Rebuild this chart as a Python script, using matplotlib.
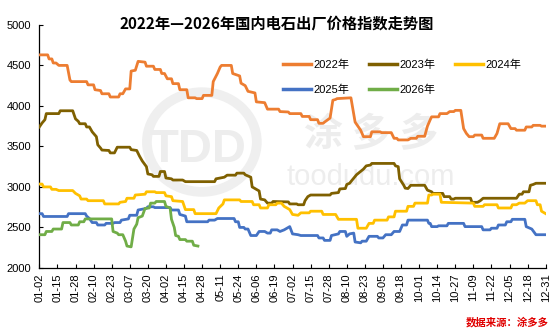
import matplotlib
matplotlib.use("Agg")
import matplotlib.pyplot as plt
import pandas as pd
from matplotlib.patches import Ellipse

# ---------------- data (day = days after 01-02, leap-year calendar) ----------------
tick_labels = ["01-02", "01-15", "01-28", "02-10", "02-23", "03-07", "03-20", "04-02",
               "04-15", "04-28", "05-11", "05-24", "06-06", "06-19", "07-02", "07-15",
               "07-28", "08-10", "08-23", "09-05", "09-18", "10-01", "10-14", "10-27",
               "11-09", "11-22", "12-05", "12-18", "12-31"]
series_names = ["2022年", "2023年", "2024年", "2025年", "2026年"]

day_2022 = [0, 6, 7, 9, 10, 12, 14, 20, 22, 23, 34, 35, 39, 40, 44, 45, 50, 51, 57, 58, 60, 62, 65, 66, 69,
            71, 76, 77, 82, 83, 87, 88, 90, 92, 95, 96, 100, 101, 106, 107, 112, 113, 117, 118, 124, 125,
            128, 130, 131, 138, 139, 144, 145, 148, 150, 155, 156, 162, 164, 172, 173, 179, 180, 188, 189,
            194, 195, 200, 201, 204, 205, 209, 211, 213, 214, 224, 227, 231, 233, 238, 239, 245, 246, 253,
            255, 257, 258, 265, 267, 271, 272, 277, 279, 281, 282, 287, 288, 293, 295, 298, 299, 303, 305,
            307, 309, 312, 313, 318, 319, 327, 329, 331, 337, 339, 342, 343, 349, 350, 354, 355, 360, 361, 364]
val_2022 = [4630, 4630, 4580, 4580, 4530, 4530, 4500, 4500, 4320, 4300, 4300, 4260, 4260, 4200, 4190, 4150,
            4150, 4110, 4110, 4150, 4150, 4210, 4210, 4430, 4440, 4550, 4540, 4490, 4490, 4450, 4450, 4400,
            4400, 4335, 4335, 4275, 4275, 4200, 4200, 4100, 4100, 4090, 4090, 4130, 4130, 4300, 4400, 4480,
            4500, 4500, 4400, 4370, 4280, 4250, 4180, 4160, 4050, 4040, 3960, 3960, 3930, 3925, 3905, 3905,
            3870, 3870, 3830, 3830, 3785, 3785, 3800, 3850, 4070, 4080, 4090, 4100, 3800, 3700, 3620, 3620,
            3680, 3680, 3670, 3670, 3600, 3600, 3580, 3580, 3600, 3600, 3625, 3625, 3750, 3830, 3865, 3865,
            3905, 3905, 3930, 3930, 3945, 3945, 3720, 3660, 3620, 3620, 3640, 3640, 3600, 3600, 3660, 3780,
            3780, 3720, 3720, 3700, 3700, 3740, 3740, 3760, 3760, 3750, 3750]

day_2023 = [0, 2, 4, 5, 14, 15, 24, 26, 28, 29, 33, 34, 36, 38, 41, 42, 44, 45, 50, 51, 54, 56, 65, 66, 70,
            72, 74, 77, 78, 81, 82, 86, 87, 90, 91, 95, 96, 103, 105, 126, 127, 133, 135, 141, 142, 147, 148,
            152, 153, 158, 159, 162, 164, 167, 168, 179, 180, 185, 186, 190, 191, 193, 195, 209, 210, 215, 216,
            220, 221, 223, 228, 233, 235, 238, 239, 255, 256, 258, 259, 262, 263, 265, 267, 277, 279, 282, 283,
            290, 291, 295, 296, 298, 299, 310, 311, 315, 317, 319, 343, 345, 347, 348, 352, 353, 355, 357, 364]
val_2023 = [3740, 3790, 3830, 3905, 3905, 3940, 3940, 3840, 3810, 3780, 3780, 3740, 3740, 3680, 3620, 3520,
            3480, 3455, 3450, 3420, 3420, 3490, 3490, 3460, 3450, 3380, 3320, 3250, 3160, 3150, 3130, 3130,
            3190, 3190, 3110, 3100, 3085, 3085, 3065, 3065, 3100, 3120, 3145, 3145, 3170, 3170, 3150, 3120,
            3000, 2950, 2850, 2840, 2800, 2800, 2820, 2815, 2790, 2790, 2780, 2780, 2830, 2880, 2900, 2900,
            2920, 2930, 2975, 2980, 3030, 3045, 3150, 3220, 3260, 3270, 3290, 3290, 3260, 3250, 3100, 3020,
            2985, 2980, 3020, 3020, 2960, 2940, 2920, 2920, 2880, 2880, 2850, 2850, 2860, 2860, 2810, 2810,
            2830, 2860, 2860, 2910, 2910, 2940, 2940, 3020, 3030, 3045, 3045]

day_2024 = [0, 2, 3, 8, 9, 12, 14, 24, 26, 29, 30, 34, 35, 46, 47, 57, 58, 62, 63, 68, 69, 76, 77, 83, 84,
            90, 91, 95, 96, 103, 105, 111, 112, 127, 129, 132, 133, 144, 145, 153, 154, 158, 159, 164, 165,
            170, 171, 174, 176, 180, 182, 186, 188, 194, 195, 203, 204, 213, 215, 228, 229, 235, 237, 240,
            241, 250, 251, 255, 256, 264, 265, 269, 270, 279, 280, 282, 283, 288, 289, 312, 313, 319, 320,
            329, 330, 339, 340, 343, 345, 349, 351, 357, 358, 360, 361, 364]
val_2024 = [3035, 3035, 3000, 3000, 2970, 2970, 2955, 2955, 2920, 2890, 2850, 2850, 2830, 2830, 2790, 2790,
            2810, 2820, 2860, 2860, 2900, 2910, 2940, 2940, 2930, 2930, 2890, 2880, 2830, 2820, 2720, 2720,
            2670, 2670, 2740, 2790, 2840, 2840, 2820, 2820, 2780, 2780, 2740, 2740, 2780, 2780, 2800, 2800,
            2760, 2720, 2660, 2650, 2680, 2680, 2700, 2700, 2660, 2660, 2600, 2600, 2490, 2490, 2550, 2550,
            2590, 2590, 2630, 2630, 2700, 2700, 2760, 2760, 2800, 2800, 2900, 2900, 2910, 2910, 2810, 2800,
            2760, 2760, 2780, 2780, 2740, 2740, 2780, 2780, 2800, 2800, 2830, 2830, 2780, 2780, 2700, 2670]

day_2025 = [0, 2, 3, 20, 21, 33, 34, 36, 38, 41, 42, 47, 48, 53, 54, 58, 59, 64, 65, 70, 71, 77, 78, 82, 83,
            94, 95, 100, 101, 105, 106, 121, 122, 126, 128, 140, 141, 143, 144, 147, 148, 150, 152, 156, 158,
            162, 164, 166, 167, 171, 173, 176, 178, 180, 182, 186, 188, 200, 201, 204, 205, 209, 210, 215,
            216, 220, 221, 223, 226, 227, 231, 232, 235, 237, 243, 244, 247, 249, 253, 255, 259, 261, 264,
            265, 279, 280, 281, 282, 286, 287, 293, 294, 305, 306, 318, 319, 324, 325, 329, 330, 335, 336,
            339, 340, 349, 350, 354, 357, 364]
val_2025 = [2670, 2670, 2635, 2635, 2670, 2670, 2640, 2610, 2560, 2560, 2530, 2530, 2550, 2550, 2560, 2560,
            2590, 2605, 2650, 2650, 2715, 2735, 2755, 2755, 2745, 2745, 2715, 2715, 2660, 2640, 2570, 2570,
            2590, 2590, 2610, 2610, 2570, 2570, 2500, 2500, 2480, 2480, 2400, 2400, 2450, 2450, 2430, 2430,
            2470, 2470, 2450, 2470, 2490, 2510, 2420, 2410, 2400, 2400, 2370, 2370, 2340, 2340, 2400, 2420,
            2450, 2450, 2390, 2420, 2430, 2320, 2310, 2330, 2330, 2390, 2390, 2370, 2370, 2410, 2410, 2450,
            2450, 2530, 2530, 2590, 2590, 2550, 2550, 2510, 2510, 2520, 2520, 2550, 2550, 2510, 2510, 2470,
            2470, 2490, 2490, 2530, 2530, 2570, 2570, 2600, 2600, 2510, 2480, 2410, 2410]

day_2026 = [0, 4, 5, 9, 10, 16, 17, 22, 23, 28, 29, 32, 33, 52, 53, 56, 57, 60, 62, 63, 66, 68, 70, 71, 74,
            76, 79, 80, 83, 84, 90, 91, 94, 95, 97, 98, 100, 101, 105, 106, 110, 111, 114]
val_2026 = [2410, 2410, 2450, 2450, 2480, 2480, 2560, 2560, 2530, 2530, 2570, 2570, 2605, 2605, 2450, 2430,
            2410, 2410, 2330, 2270, 2260, 2480, 2540, 2620, 2640, 2735, 2740, 2800, 2800, 2820, 2820, 2760,
            2740, 2600, 2500, 2400, 2390, 2350, 2350, 2330, 2330, 2280, 2270]

# ---------------- styling ----------------
colors = ["#ED7D31", "#7F6000", "#FFC000", "#4472C4", "#70AD47"]
plt.rcParams['font.family'] = ['Liberation Sans', 'Noto Sans CJK SC', 'DejaVu Sans']

fig = plt.figure(figsize=(5.54, 3.32), dpi=100)
ax = fig.add_axes([0.071, 0.193, 0.914, 0.732])

# watermark
wm = "#ededed"
ax.add_patch(Ellipse((0.321, 0.518), 0.217, 0.41, transform=ax.transAxes, fill=False,
                     edgecolor="#efefef", linewidth=7, zorder=0))
ax.text(0.313, 0.486, "TDD", transform=ax.transAxes, fontsize=34, fontweight="bold",
        color=wm, ha="center", va="center", zorder=0)
ax.text(0.655, 0.55, "涂 多 多", transform=ax.transAxes, fontsize=28, fontweight="bold",
        color=wm, ha="center", va="center", family=['Noto Sans CJK SC'], zorder=0)
ax.text(0.655, 0.375, "toodudu.com", transform=ax.transAxes, fontsize=21,
        color=wm, ha="center", va="center", zorder=0)

days = [day_2022, day_2023, day_2024, day_2025, day_2026]
vals = [val_2022, val_2023, val_2024, val_2025, val_2026]
handles = []
for name, d, v, c in zip(series_names, days, vals, colors):
    h, = ax.plot(d, v, color=c, linewidth=2.0, label=name, solid_joinstyle="round", zorder=3)
    handles.append(h)

# axes
base = pd.Timestamp("2024-01-02")
tick_pos = [(pd.Timestamp("2024-" + s) - base).days for s in tick_labels]
ax.set_xlim(0, tick_pos[-1])
ax.set_ylim(2000, 5000)
ax.set_xticks(tick_pos)
ax.set_xticklabels(tick_labels, rotation=90, fontsize=8)
ax.set_yticks(range(2000, 5001, 500))
ax.tick_params(axis="y", labelsize=8, direction="in", length=3, width=0.8, pad=6)
ax.tick_params(axis="x", direction="in", length=3, width=0.8, pad=4)
for s in ["top", "right"]:
    ax.spines[s].set_visible(False)
for s in ["left", "bottom"]:
    ax.spines[s].set_linewidth(0.9)
    ax.spines[s].set_color("black")

# legend filled row-wise: 2022 2023 2024 / 2025 2026
order = [0, 3, 1, 4, 2]
leg = ax.legend([handles[i] for i in order], [series_names[i] for i in order],
                ncol=3, loc="upper left", bbox_to_anchor=(0.4815, 0.856), frameon=False,
                fontsize=8, handlelength=2.5, handletextpad=0.25, columnspacing=1.75,
                labelspacing=1.3, borderaxespad=0, borderpad=0)
for line in leg.get_lines():
    line.set_linewidth(2.5)

fig.text(0.5, 1 - 23.5 / 332, "2022年—2026年国内电石出厂价格指数走势图", ha="center", va="center",
         fontsize=11, fontweight="bold", family=['Noto Sans CJK SC'])
fig.text(0.99, 1 - 322 / 332, "数据来源：涂多多", ha="right", va="center", fontsize=7.5,
         fontweight="bold", color="#E00000", family=['Noto Sans CJK SC'])

fig.savefig("out.png", dpi=100)
